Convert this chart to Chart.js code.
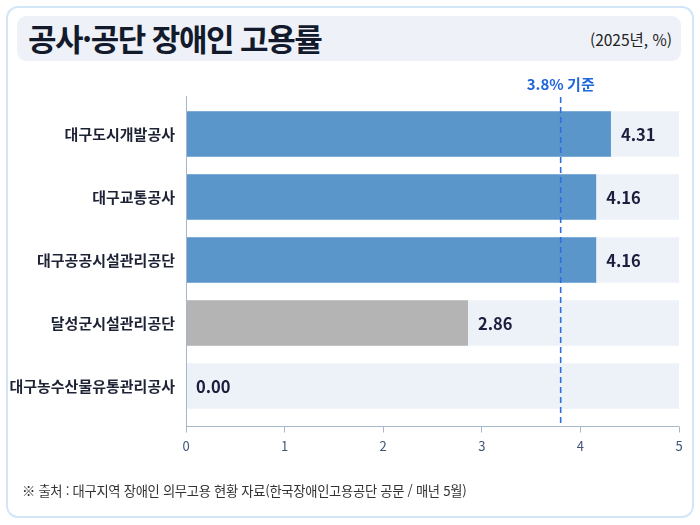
<!DOCTYPE html>
<html lang="ko">
<head>
<meta charset="utf-8">
<script src="https://cdn.jsdelivr.net/npm/chart.js@4.4.1/dist/chart.umd.min.js"></script>
<style>
  html, body { margin: 0; padding: 0; background: #fff; }
  #wrap { position: relative; width: 700px; height: 525px; overflow: hidden; font-family: "Noto Sans CJK KR", "Noto Sans", sans-serif; }
  #card { position: absolute; left: 6px; top: 6px; width: 684px; height: 508px; border: 2px solid #d3e6f8; border-radius: 12px; background: #fff; }
  #titleBox { position: absolute; left: 17px; top: 16px; width: 664px; height: 45px; background: #eef2f8; border-radius: 9px; }
  #title { position: absolute; left: 28px; top: 19px; font-size: 31px; font-weight: bold; color: #121a2b; letter-spacing: -1.5px; line-height: 38px; }
  #unit { position: absolute; right: 28px; top: 28px; font-size: 15.5px; color: #222; line-height: 22px; }
  #source { position: absolute; left: 22px; top: 481px; font-size: 13.3px; color: #333; line-height: 20px; letter-spacing: -0.3px; }
  canvas { position: absolute; left: 0; top: 0; }
</style>
</head>
<body>
<div id="wrap">
  <div id="card"></div>
  <div id="titleBox"></div>
  <div id="title">공사·공단 장애인 고용률</div>
  <div id="unit">(2025년, %)</div>
  <canvas id="Graph" width="700" height="525"></canvas>
  <div id="source">※ 출처 : 대구지역 장애인 의무고용 현황 자료(한국장애인고용공단 공문 / 매년 5월)</div>
</div>
<script>
let canvas = document.getElementById("Graph");

const labels = ['대구도시개발공사', '대구교통공사', '대구공공시설관리공단', '달성군시설관리공단', '대구농수산물유통관리공사'];
const rates = [4.31, 4.16, 4.16, 2.86, 0.00];
const trackValues = [5, 5, 5, 5, 5];
const baseline = 3.8;
const baselineLabel = '3.8% 기준';
const xTicks = [0, 1, 2, 3, 4, 5];

const fontKR = '"Noto Sans CJK KR", "Noto Sans", sans-serif';

// axis lines, baseline and value labels
const overlay = {
  id: 'overlay',
  afterDatasetsDraw(chart) {
    const ctx = chart.ctx;
    const area = chart.chartArea;
    const x = chart.scales.x;
    const top = area.top - 6.5;
    const bottom = area.bottom + 8.5;
    const x0 = x.getPixelForValue(0);

    ctx.save();
    ctx.strokeStyle = '#a7b6cd';
    ctx.lineWidth = 1;
    ctx.beginPath();
    ctx.moveTo(x0 + 0.5, top);
    ctx.lineTo(x0 + 0.5, bottom);
    ctx.moveTo(x0, bottom + 0.5);
    ctx.lineTo(x.getPixelForValue(5), bottom + 0.5);
    ctx.stroke();

    // 3.8% line
    const bx = x.getPixelForValue(baseline);
    ctx.strokeStyle = '#2d6fe0';
    ctx.lineWidth = 1.6;
    ctx.setLineDash([6, 4]);
    ctx.beginPath();
    ctx.moveTo(bx, top + 1);
    ctx.lineTo(bx, bottom);
    ctx.stroke();
    ctx.setLineDash([]);

    ctx.fillStyle = '#1f66dc';
    ctx.font = '600 15px ' + fontKR;
    ctx.textAlign = 'center';
    ctx.textBaseline = 'middle';
    ctx.fillText(baselineLabel, bx, area.top - 18);

    // values
    const meta = chart.getDatasetMeta(0);
    ctx.fillStyle = '#1b1e3c';
    ctx.font = 'bold 16.5px ' + fontKR;
    ctx.textAlign = 'left';
    meta.data.forEach((bar, i) => {
      ctx.fillText(rates[i].toFixed(2), bar.x + 10, bar.y + 1);
    });
    ctx.restore();
  }
};

const data = {
  labels: labels,
  datasets: [
    {
      label: '고용률',
      data: rates,
      backgroundColor: (c) => (c.raw >= baseline ? '#5b96cb' : '#b4b4b4'),
      grouped: false,
      order: 1,
      categoryPercentage: 1,
      barPercentage: 0.725,
    },
    {
      label: 'track',
      data: trackValues,
      backgroundColor: '#edf2f8',
      grouped: false,
      order: 2,
      categoryPercentage: 1,
      barPercentage: 0.725,
    }
  ]
};

const config = {
  type: 'bar',
  data: data,
  plugins: [overlay],
  options: {
    indexAxis: 'y',
    responsive: false,
    animation: false,
    layout: {
      padding: { top: 102.5, right: 21, bottom: 57.5, left: 0 }
    },
    plugins: {
      legend: { display: false },
      tooltip: { enabled: false },
      title: { display: false }
    },
    scales: {
      x: {
        type: 'linear',
        min: 0,
        max: 5,
        afterBuildTicks: (s) => { s.ticks = xTicks.map(v => ({ value: v })); },
        afterFit: (s) => { s.height = 50; },
        border: { display: false },
        grid: {
          drawOnChartArea: false,
          tickLength: 15,
          tickColor: '#a7b6cd',
          tickWidth: 1,
          tickBorderDash: [0, 8.5, 6, 40],
        },
        ticks: {
          padding: 6,
          color: '#44557a',
          font: { size: 13, family: fontKR },
        }
      },
      y: {
        afterFit: (s) => { s.width = 186; },
        border: { display: false },
        grid: { display: false, drawTicks: false },
        ticks: {
          padding: 11,
          color: '#1e2235',
          font: { size: 15, weight: 'bold', family: fontKR },
        }
      }
    }
  }
};

const chart = new Chart(canvas, config);
</script>
</body>
</html>
